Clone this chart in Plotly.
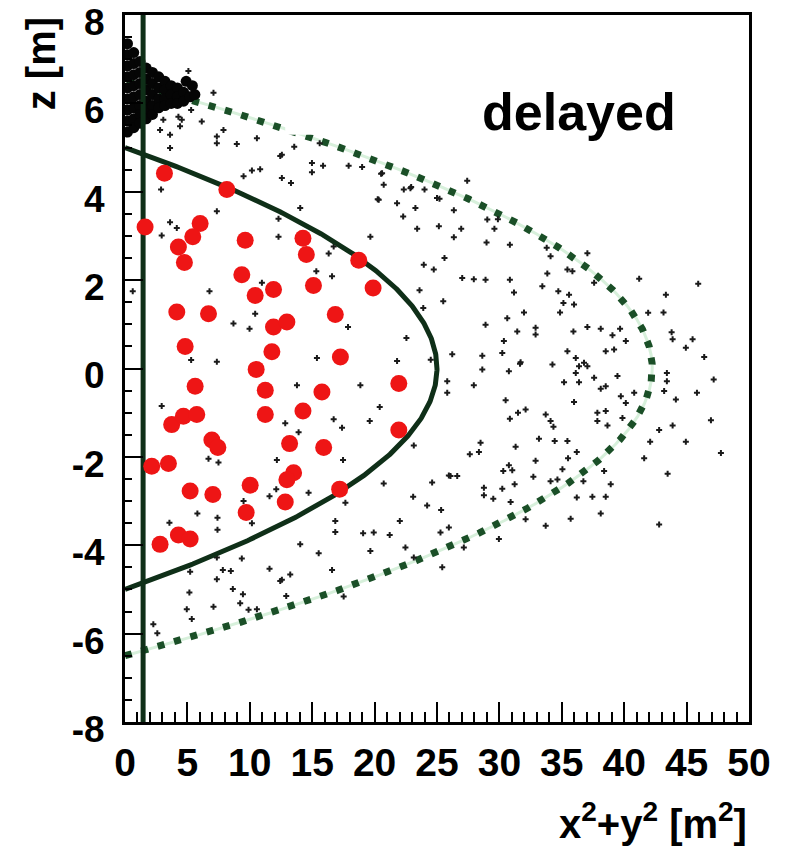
import numpy as np
import plotly.graph_objects as go

# Red event markers: (x^2+y^2 [m^2], z [m])
red_r2 = [3.16, 8.16, 1.61, 6.02, 5.43, 4.28, 4.76, 9.63, 14.26, 14.53, 18.73, 19.88,
          9.36, 10.43, 11.9, 15.1, 4.15, 6.69, 11.9, 12.97, 16.85, 4.82, 11.77, 17.26,
          10.51, 5.62, 11.24, 15.78, 21.94, 3.74, 4.68, 5.75, 11.24, 14.26, 21.94, 6.96,
          7.44, 13.19, 15.92, 2.14, 3.48, 13.51, 12.97, 5.22, 7.04, 10.03, 17.2, 12.84,
          9.71, 2.81, 4.28, 5.22]
red_z = [4.42, 4.05, 3.20, 3.28, 2.98, 2.75, 2.40, 2.90, 2.95, 2.58, 2.45, 1.82,
         2.12, 1.65, 1.79, 1.88, 1.28, 1.24, 0.94, 1.05, 1.22, 0.50, 0.38, 0.26,
         -0.02, -0.40, -0.49, -0.53, -0.34, -1.27, -1.08, -1.04, -1.04, -0.96, -1.39, -1.62,
         -1.79, -1.70, -1.79, -2.21, -2.15, -2.36, -2.52, -2.77, -2.85, -2.64, -2.73, -3.02,
         -3.26, -3.98, -3.77, -3.86]

# Dense cluster of background hits near the top of the chimney
blob_r2 = [0.2, 0.2, 0.2, 0.2, 0.2, 0.2, 0.2, 0.2, 0.2,
           0.7, 0.7, 0.7, 0.7, 0.7, 0.7, 0.7, 0.7,
           1.2, 1.2, 1.2, 1.2, 1.2, 1.2, 1.2,
           1.7, 1.7, 1.7, 1.7, 1.7, 1.7,
           2.2, 2.2, 2.2, 2.2, 2.2,
           2.7, 2.7, 2.7, 2.7,
           3.2, 3.2, 3.2, 3.2,
           3.7, 3.7, 3.7,
           4.2, 4.2, 4.2,
           4.7, 4.7, 5.2, 5.6, 4.9, 5.4]
blob_z = [7.35, 7.1, 6.85, 6.6, 6.35, 6.1, 5.85, 5.6, 5.35,
          7.15, 6.9, 6.65, 6.4, 6.15, 5.9, 5.65, 5.45,
          6.95, 6.7, 6.45, 6.2, 5.95, 5.75, 5.55,
          6.8, 6.55, 6.3, 6.05, 5.85, 5.65,
          6.7, 6.45, 6.2, 5.95, 5.75,
          6.6, 6.35, 6.1, 5.9,
          6.5, 6.3, 6.1, 5.95,
          6.4, 6.2, 6.0,
          6.35, 6.15, 6.0,
          6.25, 6.05, 6.15, 6.2, 6.5, 6.4]

# Scattered background hits
bg_r2 = [5.08, 4.9, 7.09, 5.3, 3.07, 2.81, 4.28, 3.61, 6.15, 7.89, 7.36, 7.36, 8.96, 3.61,
         10.57, 12.44, 4.55, 4.41,
         12.57, 13.56, 15.6, 14.98, 15.87, 14.98, 10.17, 10.83, 9.5, 12.57, 13.3, 2.89, 14.04,
         7.36, 12.3, 3.61, 2.94, 4.15, 12.3, 16.32, 16.72, 15.33, 16.59, 10.97, 6.77, 0.62,
         10.43, 8.69, 9.98, 17.87, 5.3, 7.36, 15.38, 20.6, 20.33, 21.8, 23.27, 22.29, 23.41,
         25.15, 19.66, 22.87, 24.0, 25.0, 23.94, 24.74, 25.6, 25.5, 23.6, 23.9, 22.55, 21.8, 24.5,
         17.92, 19.0, 20.52, 20.73, 22.34, 22.93, 25.2, 27.42, 26.35, 26.94, 26.35, 20.25,
         29.03, 29.88, 29.6, 28.97, 30.84, 33.79, 34.1, 33.84, 35.45, 35.85, 37.05, 37.59,
         34.72, 35.58, 35.13, 35.98, 34.86, 33.44, 31.17, 30.84, 28.89, 27.95, 27.02, 31.97,
         30.63, 28.89, 31.43, 32.9, 32.9, 30.36, 30.23, 28.63, 26.22, 31.7, 34.25, 35.45,
         36.12, 36.78, 38.12, 35.93, 37.05, 38.52, 39.19, 40.13, 39.67, 39.06, 41.2, 41.92,
         43.15, 43.34, 43.8, 43.88, 45.48, 44.94, 46.41, 45.93,
         28.63, 30.76, 31.65, 36.12, 36.38, 37.05, 37.59, 35.18, 36.38, 38.12, 38.52, 39.46,
         27.95, 25.82, 25.82, 30.5, 35.98, 39.73, 40.13, 40.8, 43.42, 43.42, 43.2, 44.14,
         45.83, 47.17, 46.95, 47.75, 44.94, 43.88, 42.8, 42.08, 41.6, 43.48, 42.8, 38.92,
         38.12, 38.52, 37.45, 36.2, 35.71, 33.71, 38.39, 38.66, 37.85, 38.52, 37.85, 39.86,
         33.71, 34.1, 34.33, 31.49, 30.84, 32.1, 33.17, 34.43, 35.45, 36.2, 35.5, 31.3,
         28.49, 28.36, 27.63, 30.76, 31.03, 30.31, 32.9, 32.72, 35.05, 31.22, 30.23, 28.76,
         28.76, 29.51, 30.9, 34.1, 34.65, 36.73, 26.08, 26.62, 24.61, 24.21, 25.33, 25.28,
         25.95, 29.96, 32.1, 25.42, 27.15,
         2.94, 13.78, 18.86, 20.41, 16.72, 19.61, 17.39, 12.84, 13.91, 6.69, 7.49, 12.17,
         17.47, 11.58, 12.12, 14.71, 23.14, 25.95, 20.73, 23.09, 17.66, 9.5, 10.17, 5.8,
         7.41, 7.41, 3.56, 16.85, 16.85, 19.08, 19.93, 21.21, 22.02, 22.47, 19.66, 15.52,
         14.04, 11.58, 9.36, 7.36, 7.84, 8.48, 7.36, 5.22, 16.59, 12.57, 23.14,
         5.16, 4.95, 5.35, 7.09, 8.64, 9.45, 9.23, 9.9, 10.57, 12.44, 13.24, 12.92, 17.52,
         2.27, 2.59]
bg_z = [6.73, 6.46, 6.24, 5.85, 5.63, 5.40, 5.70, 5.29, 5.59, 5.40, 5.25, 5.10, 5.08, 4.99,
        5.21, 4.81, 5.63, 5.48,
        4.84, 5.02, 5.10, 4.65, 4.59, 4.44, 4.48, 4.51, 4.35, 4.31, 4.20, 4.05, 3.63,
        3.56, 3.39, 3.31, 3.01, 3.18, 2.98, 2.60, 2.76, 2.20, 2.09, 1.94, 1.75, 1.75,
        1.24, 1.02, 0.90, 0.94, 0.19, 0.15, 0.24, 4.42, 3.82, 3.74, 3.63, 3.44, 3.16,
        3.22, 2.98, 4.08, 4.05, 3.86, 2.35, 2.24, 2.5, 1.52, 1.77, 1.37, 0.69, 0.17, 0.2,
        4.59, 4.56, 4.41, 4.16, 4.05, 4.11, 3.84, 4.25, 3.58, 3.16, 2.97, 3.83,
        3.37, 3.38, 3.16, 2.85, 2.80, 2.73, 2.54, 2.15, 2.24, 2.20, 2.61, 1.94,
        1.75, 1.67, 1.48, 1.45, 1.27, 1.86, 1.72, 2.01, 2.01, 2.02, 2.05, 1.27,
        1.14, 0.99, 0.84, 0.92, 0.77, 0.62, 0.35, 0.29, 0.32, 0.14, 0.09, 0.39,
        0.24, 0.13, 0.90, 0.84, 0.94, 0.39, 0.43, 0.62, 0.90, 0.75, 2.03, 1.26,
        1.27, 1.67, 0.82, 0.66, 0.66, 0.47, 0.26, 1.92,
        -0.02, -0.06, 0.11, -0.10, 0.05, 0.05, -0.21, -0.31, -0.31, -0.46, -0.40, -0.17,
        -0.38, -0.29, -0.55, -0.72, -0.76, -0.63, -0.78, -0.55, -0.10, -0.29, -0.51, -0.70,
        -0.55, -0.25, -1.17, -1.91, -1.66, -1.29, -1.39, -1.66, -2.03, -2.38, -3.53, -2.62,
        -3.28, -2.90, -2.90, -2.92, -3.40, -3.56, -2.32, -1.29, -1.00, -0.96, -1.19, -1.12,
        -1.04, -1.19, -1.32, -1.00, -1.14, -0.93, -1.59, -1.64, -1.64, -1.89, -2.03, -1.77,
        -1.68, -1.89, -1.94, -2.19, -2.30, -2.32, -2.09, -2.45, -2.28, -2.62, -2.72, -2.70,
        -2.87, -2.95, -3.02, -2.55, -2.51, -2.55, -2.43, -2.43, -2.58, -3.10, -3.20, -3.71,
        -3.60, -3.86, -3.41, -4.50, -4.05,
        -0.85, -0.38, -0.38, -0.87, -1.15, -1.19, -1.34, -1.24, -1.44, -2.04, -2.13, -2.07,
        -2.07, -2.89, -2.73, -2.81, -1.74, -2.42, -2.60, -2.90, -3.04, -3.00, -3.50, -3.28,
        -3.38, -3.65, -3.49, -3.45, -3.70, -3.73, -3.71, -3.77, -3.45, -4.05, -4.13, -4.18,
        -3.98, -4.53, -4.30, -4.28, -4.56, -4.58, -4.77, -4.60, -4.56, -4.78, -4.28,
        -5.07, -5.45, -5.67, -5.39, -4.99, -5.11, -5.31, -5.46, -5.45, -4.81, -4.66, -5.15,
        -5.16, -5.79, -5.99]

# Volume boundaries (spheres seen in r^2 vs z) and the chimney position
INNER_R2 = 25.0        # solid boundary, radius 5 m
OUTER_R2 = 42.25       # dotted boundary, radius 6.5 m
CHIMNEY_R2 = 1.45

y_ticks = [-8, -6, -4, -2, 0, 2, 4, 6, 8]
y_ticktext = ["-8", "-6", "-4", "-2", "0", "2", "4", "6", "8"]
x_ticks = [0, 5, 10, 15, 20, 25, 30, 35, 40, 45, 50]

DARK_GREEN = "#0f2f18"
DOT_GREEN = "#1a4f27"
FONT = "Liberation Sans"

z_in = np.linspace(-np.sqrt(INNER_R2), np.sqrt(INNER_R2), 400)
z_out = np.linspace(-np.sqrt(OUTER_R2), np.sqrt(OUTER_R2), 600)

fig = go.Figure()

# faint halo under the dotted boundary
fig.add_trace(go.Scatter(x=OUTER_R2 - z_out**2, y=z_out, mode="lines",
                         line=dict(color="rgba(110,200,125,0.28)", width=3),
                         hoverinfo="skip", showlegend=False))
fig.add_trace(go.Scatter(x=OUTER_R2 - z_out**2, y=z_out, mode="lines",
                         line=dict(color=DOT_GREEN, width=7, dash="7px,10px"),
                         hoverinfo="skip", showlegend=False))

fig.add_trace(go.Scatter(x=bg_r2, y=bg_z, mode="markers",
                         marker=dict(symbol="cross", size=5, color="#1a1a1a", line=dict(width=0)),
                         hoverinfo="skip", showlegend=False))
fig.add_trace(go.Scatter(x=blob_r2, y=blob_z, mode="markers",
                         marker=dict(symbol="circle", size=11, color="#050505", line=dict(width=0)),
                         hoverinfo="skip", showlegend=False))

fig.add_trace(go.Scatter(x=INNER_R2 - z_in**2, y=z_in, mode="lines",
                         line=dict(color=DARK_GREEN, width=5),
                         hoverinfo="skip", showlegend=False))
fig.add_trace(go.Scatter(x=[CHIMNEY_R2, CHIMNEY_R2], y=[-8, 8], mode="lines",
                         line=dict(color=DARK_GREEN, width=5),
                         hoverinfo="skip", showlegend=False))

fig.add_trace(go.Scatter(x=red_r2, y=red_z, mode="markers",
                         marker=dict(symbol="circle", size=17, color="#ee1515", line=dict(width=0)),
                         hoverinfo="skip", showlegend=False))

# white label patch and label
fig.add_shape(type="rect", xref="x", yref="y", x0=12.84, x1=45.5, y0=5.29, y1=7.25,
              fillcolor="white", line=dict(width=0), layer="above")
fig.add_annotation(x=36.4, y=5.8, xref="x", yref="y", text="delayed", showarrow=False,
                   font=dict(family=FONT, size=52, color="black", weight="bold"),
                   xanchor="center", yanchor="middle")

# axis titles
fig.add_annotation(x=-0.135, y=1.0, xref="paper", yref="paper", text="z [m]",
                   showarrow=False, textangle=-90, xanchor="center", yanchor="top",
                   font=dict(family=FONT, size=40, color="black", weight="bold"))
fig.add_annotation(x=1.0, y=-0.178, xref="paper", yref="paper",
                   text="x<sup>2</sup>+y<sup>2</sup> [m<sup>2</sup>]",
                   showarrow=False, xanchor="right", yanchor="bottom",
                   font=dict(family=FONT, size=40, color="black", weight="bold"))

axis_common = dict(showgrid=False, zeroline=False, showline=True, linecolor="black",
                   linewidth=3, mirror=True, ticks="inside", tickcolor="black", tickwidth=2,
                   ticklabeloverflow="allow", automargin=False)

fig.update_xaxes(range=[0, 50], tickvals=x_ticks, ticklen=20,
                 minor=dict(dtick=1, ticklen=10, ticks="inside", tickcolor="black", tickwidth=2),
                 tickfont=dict(family=FONT, size=39, color="black", weight="bold"),
                 ticklabelstandoff=4, **axis_common)
fig.update_yaxes(range=[-8, 8], tickvals=y_ticks, ticktext=y_ticktext, ticklen=18,
                 minor=dict(dtick=0.5, ticklen=7, ticks="inside", tickcolor="black", tickwidth=2),
                 tickfont=dict(family=FONT, size=37, color="black", weight="bold"),
                 ticklabelstandoff=10, ticklabelshift=7, **axis_common)

fig.update_layout(width=787, height=851, margin=dict(l=125, r=38, t=15, b=129, autoexpand=False),
                  plot_bgcolor="white", paper_bgcolor="white", showlegend=False)

fig.write_html("out.html")
